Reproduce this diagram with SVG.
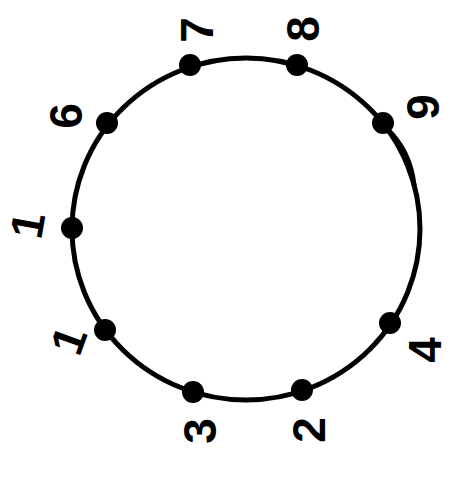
<svg xmlns="http://www.w3.org/2000/svg" width="450" height="478" viewBox="0 0 450 478">
<style>
.ring{fill:none;stroke:#000;stroke-width:5}
.dot{fill:#000}
.lbl{font-family:"Liberation Sans",Arial,sans-serif;font-size:46px;font-weight:bold;fill:#000;text-anchor:middle}
</style>
<rect width="450" height="478" fill="#fff"/>
<g id="connectors">
<ellipse class="ring" cx="246" cy="229" rx="174" ry="171"/>
<path class="ring" d="M386,128 Q410,150 414,185" stroke-width="4"/>
</g>
<g id="n7"><circle class="dot" cx="190" cy="65" r="11"/><text class="lbl" transform="translate(196,30) rotate(-90)" dy="0.36em">7</text></g>
<g id="n8"><circle class="dot" cx="297" cy="65" r="11"/><text class="lbl" transform="translate(302,29) rotate(-90)" dy="0.36em">8</text></g>
<g id="n9"><circle class="dot" cx="383" cy="123" r="11"/><text class="lbl" transform="translate(422,107) rotate(-90)" dy="0.36em">9</text></g>
<g id="n4"><circle class="dot" cx="390" cy="323" r="11"/><text class="lbl" transform="translate(424,350) rotate(-90)" dy="0.36em">4</text></g>
<g id="n2"><circle class="dot" cx="302" cy="390" r="11"/><text class="lbl" transform="translate(308,430) rotate(-90)" dy="0.36em">2</text></g>
<g id="n3"><circle class="dot" cx="193" cy="392" r="11"/><text class="lbl" transform="translate(199,431) rotate(-90)" dy="0.36em">3</text></g>
<g id="n1b"><circle class="dot" cx="105" cy="330" r="11"/><text class="lbl" transform="translate(68,340) rotate(-70)" dy="0.36em">1</text></g>
<g id="n1a"><circle class="dot" cx="72" cy="228" r="11"/><text class="lbl" transform="translate(27,225) rotate(-80)" dy="0.36em">1</text></g>
<g id="n6"><circle class="dot" cx="107" cy="123" r="11"/><text class="lbl" transform="translate(65,116) rotate(-90)" dy="0.36em">6</text></g>
</svg>
